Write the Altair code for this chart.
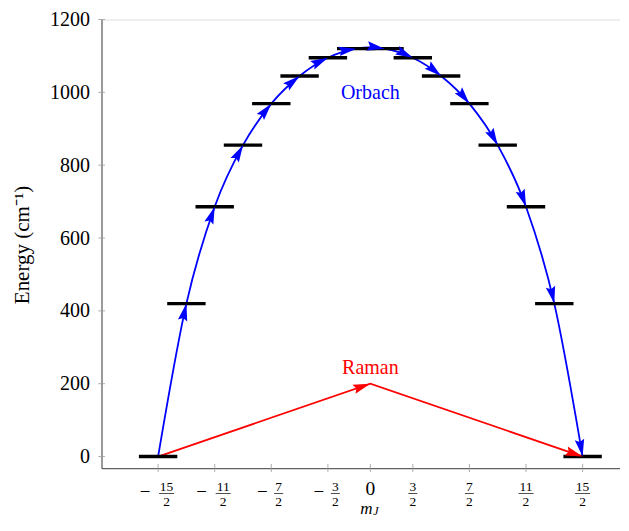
import altair as alt
import pandas as pd
import numpy as np

# ---------------- data ----------------
mj_num = [-15, -13, -11, -9, -7, -5, -3, -1, 1, 3, 5, 7, 9, 11, 13, 15]
energy = [0, 420, 686, 855, 969, 1045, 1095, 1120, 1120, 1095, 1045, 969, 855, 686, 420, 0]
raman_mj = [-7.5, 0.0, 7.5]
raman_e = [0, 200, 0]
x_tick_num = [-15, -11, -7, -3, 0, 3, 7, 11, 15]
y_ticks = [0, 200, 400, 600, 800, 1000, 1200]
annot_text = ["Orbach", "Raman"]
annot_x = [0, 0]
annot_y = [981, 228]
annot_color = ["#0000ff", "#ff0000"]

# ---------------- geometry / style ----------------
KX = 28.3      # px per unit of m_J
KY = 0.3642    # px per cm-1
XMIN, XMAX = -9.5, 8.82
YMIN, YMAX = -32, 1200
W = (XMAX - XMIN) * KX
H = (YMAX - YMIN) * KY
PAD_L, PAD_T = 93.5, 11.5
SVG_H = 510
FONT = "Liberation Serif"
BLUE, RED = "#0000ff", "#ff0000"
ARROW = "M0,0 L0.55,2 L0,1.7 L-0.55,2 Z"

levels = pd.DataFrame({"mj": [n / 2 for n in mj_num], "E": energy})
raman = pd.DataFrame({"mj": raman_mj, "E": raman_e})


def head_angles(xs, ys, tangent):
    px = np.asarray(xs, float) * KX
    py = np.asarray(ys, float) * KY
    out = []
    for i in range(1, len(px)):
        if tangent and i < len(px) - 1:
            dx, dy = px[i + 1] - px[i - 1], py[i + 1] - py[i - 1]
        else:
            dx, dy = px[i] - px[i - 1], py[i] - py[i - 1]
        out.append(float(np.degrees(np.arctan2(dx, dy)) % 360))
    return out


heads = pd.concat([
    pd.DataFrame({"mj": levels.mj[1:].values, "E": levels.E[1:].values,
                  "ang": head_angles(levels.mj, levels.E, True), "col": BLUE}),
    pd.DataFrame({"mj": raman.mj[1:].values, "E": raman.E[1:].values,
                  "ang": head_angles(raman.mj, raman.E, False), "col": RED}),
])

xscale = alt.Scale(domain=[XMIN, XMAX], nice=False, zero=False)
yscale = alt.Scale(domain=[YMIN, YMAX], nice=False, zero=False)
xaxis = alt.Axis(title=None, labels=False, ticks=False, grid=False,
                 domainColor="#444444", domainWidth=1)
yaxis = alt.Axis(values=y_ticks, format="d", grid=False, ticks=False, tickSize=0,
                 labelPadding=12, labelFont=FONT, labelFontSize=20,
                 labelColor="black", domainColor="#444444", domainWidth=1,
                 title="Energy (cm⁻¹)", titleFont=FONT, titleFontSize=21,
                 titleFontWeight="normal", titleColor="black",
                 titleAngle=270, titleBaseline="bottom", titleAlign="center",
                 titleX=-69, titleY=225)

X = alt.X("mj:Q", scale=xscale, axis=xaxis)
Y = alt.Y("E:Q", scale=yscale, axis=yaxis)

blue_line = alt.Chart(levels).mark_line(
    color=BLUE, strokeWidth=1.8, interpolate="cardinal"
).encode(x=X, y=Y, order="mj:Q")

red_line = alt.Chart(raman).mark_line(color=RED, strokeWidth=1.8).encode(
    x=X, y=Y, order="mj:Q")

bars = alt.Chart(levels).mark_tick(
    orient="horizontal", size=38.4, thickness=3.4, color="black", opacity=1
).encode(x=X, y=Y)

arrowheads = alt.Chart(heads).mark_point(
    shape=ARROW, filled=True, size=300, opacity=1, strokeWidth=0
).encode(x=X, y=Y, angle=alt.Angle("ang:Q", scale=None),
         color=alt.Color("col:N", scale=None))

# tick marks crossing the axes
xt = pd.DataFrame({"mj": [n / 2 for n in x_tick_num]})
x_ticks = alt.Chart(xt).mark_rule(color="#999999", strokeWidth=0.8).encode(
    x=X, y=alt.value(H - 4.2), y2=alt.value(H + 3.8))
yt = pd.DataFrame({"E": y_ticks})
y_ticks_layer = alt.Chart(yt).mark_rule(color="#999999", strokeWidth=0.8).encode(
    y=Y, x=alt.value(-3.2), x2=alt.value(3.5))

# fraction tick labels
lab = pd.DataFrame({
    "mj": [n / 2 for n in x_tick_num],
    "num": [str(abs(n)) for n in x_tick_num],
    "grp": [("zero" if n == 0 else ("neg" if n < 0 else "pos") + str(len(str(abs(n)))))
            for n in x_tick_num],
})
groups = {  # minus dx, fraction dx, bar width
    "neg2": (-13, 8.5, 15),
    "neg1": (-9, 7.4, 9),
    "pos2": (None, 0, 15),
    "pos1": (None, 0, 9),
}
label_layers = []
for g, (mdx, fdx, bw) in groups.items():
    base = alt.Chart(lab).transform_filter(alt.datum.grp == g)
    label_layers.append(base.mark_text(
        font=FONT, fontSize=13.5, baseline="alphabetic", align="center", dx=fdx, color="black"
    ).encode(x=X, y=alt.value(471.3), text="num:N"))
    label_layers.append(base.mark_text(
        font=FONT, fontSize=13.5, baseline="alphabetic", align="center", dx=fdx, color="black", text="2"
    ).encode(x=X, y=alt.value(486.5)))
    label_layers.append(base.mark_rule(
        color="black", strokeWidth=0.7, xOffset=fdx - bw / 2, x2Offset=fdx + bw / 2
    ).encode(x=X, x2="mj:Q", y=alt.value(474)))
    if mdx is not None:
        label_layers.append(base.mark_text(
            font=FONT, fontSize=19, baseline="middle", align="center", dx=mdx, color="black", text="−"
        ).encode(x=X, y=alt.value(472.5)))
zero_lab = alt.Chart(lab).transform_filter(alt.datum.grp == "zero").mark_text(
    font=FONT, fontSize=19.5, baseline="alphabetic", align="center", color="black", text="0"
).encode(x=X, y=alt.value(475.5))

# axis title m_J
m_lab = alt.Chart(xt.head(1)).mark_text(
    font=FONT, fontSize=17, fontStyle="italic", baseline="alphabetic", align="center",
    dx=-4, color="black", text="m"
).encode(x=alt.datum(0), y=alt.value(495))
j_lab = alt.Chart(xt.head(1)).mark_text(
    font=FONT, fontSize=12, fontStyle="italic", baseline="alphabetic", align="center",
    dx=5.5, color="black", text="J"
).encode(x=alt.datum(0), y=alt.value(496))

# annotations
annot = pd.DataFrame({"mj": annot_x, "E": annot_y, "label": annot_text, "col": annot_color})
annot_layer = alt.Chart(annot).mark_text(
    font=FONT, fontSize=20, baseline="alphabetic", align="center"
).encode(x=X, y=Y, text="label:N", color=alt.Color("col:N", scale=None))

chart = alt.layer(
    blue_line, red_line, bars, arrowheads, x_ticks, y_ticks_layer,
    *label_layers, zero_lab, m_lab, j_lab, annot_layer
).properties(
    width=W, height=H,
    autosize=alt.AutoSizeParams(type="none"),
    padding={"left": PAD_L, "top": PAD_T, "right": 0, "bottom": SVG_H - PAD_T - H},
).configure_view(stroke=None).configure(background="white")

chart.save("out.html", embed_options={"renderer": "svg", "actions": False})
